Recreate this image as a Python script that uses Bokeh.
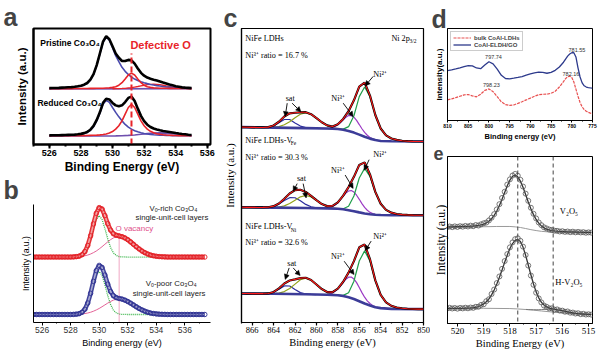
import numpy as np
from bokeh.plotting import figure
from bokeh.models import (Range1d, Label, Arrow, NormalHead, ColumnDataSource,
                          SingleIntervalTicker, FixedTicker, Legend, LegendItem, Span)
from bokeh.layouts import row, column
from bokeh.embed import file_html
from bokeh.resources import INLINE

SANS = "Liberation Sans"
SERIF = "Liberation Serif"

# ================= DATA =================
# ---- panel a : O 1s, Co3O4 ----
a_x = list(np.round(np.arange(526.0, 535.01, 0.2), 1))
a_pri_black = [63.2, 63.3, 63.4, 63.5, 63.7, 63.8, 64.1, 64.3, 64.7, 65.2, 65.8, 67.0, 68.9, 72.6, 78.9,
               89.0, 102.0, 115.2, 121.3, 118.0, 110.0, 101.9, 97.2, 93.6, 93.5, 94.8, 94.3, 90.6, 85.2,
               80.3, 77.1, 75.0, 73.7, 72.6, 71.7, 70.6, 69.4, 68.3, 67.2, 66.3, 65.3, 64.7, 64.0, 63.7,
               63.5, 63.2]
a_pri_blue = [63.1, 63.2, 63.3, 63.4, 63.6, 63.7, 64.0, 64.2, 64.5, 65.0, 65.6, 66.7, 68.6, 72.2, 78.5,
              88.5, 101.5, 114.6, 120.5, 117.0, 108.5, 99.5, 93.0, 86.5, 82.0, 78.5, 75.5, 73.3, 71.7,
              70.3, 69.2, 68.2, 67.3, 66.6, 66.0, 65.5, 65.0, 64.6, 64.3, 64.0, 63.7, 63.5, 63.3, 63.2,
              63.1, 63.0]
a_pri_red = [62.6, 62.6, 62.6, 62.6, 62.6, 62.6, 62.6, 62.6, 62.7, 62.7, 62.7, 62.8, 62.8, 62.9, 62.9,
             63.0, 63.0, 63.1, 63.3, 63.5, 64.0, 64.8, 66.5, 69.3, 73.5, 77.9, 80.0, 77.9, 73.5, 69.3,
             66.5, 64.8, 64.0, 63.5, 63.3, 63.1, 63.0, 63.0, 62.9, 62.9, 62.8, 62.8, 62.7, 62.7, 62.7,
             62.6]
a_x3 = list(np.round(np.arange(530.0, 535.01, 0.2), 1))
a_pri_c3 = [62.5, 62.6, 62.7, 62.8, 63.0, 63.4, 63.8, 64.4, 65.0, 65.7, 66.4, 67.0, 67.4, 67.5, 67.4,
            67.0, 66.4, 65.7, 65.0, 64.4, 63.8, 63.4, 63.0, 62.8, 62.7, 62.6]
a_base_x = [526.0, 535.0]
a_pri_base = [62.2, 62.6]
a_red_black = [10.2, 10.3, 10.3, 10.4, 10.5, 10.6, 10.8, 10.9, 11.1, 11.45, 11.9, 12.75, 14.1, 16.6, 20.8,
               27.5, 36.1, 46.7, 51.3, 50.5, 46.6, 43.85, 42.75, 43.9, 47.55, 52.2, 53.65, 48.7, 40.2,
               32.1, 26.2, 22.2, 19.6, 17.9, 16.75, 15.9, 15.15, 14.6, 14.0, 13.4, 12.8, 12.25, 11.75,
               11.4, 11.0, 10.7]
a_red_blue = [9.9, 10.0, 10.0, 10.1, 10.2, 10.3, 10.5, 10.6, 10.8, 11.1, 11.5, 12.3, 13.5, 15.9, 20.0,
              26.5, 35.0, 45.0, 49.5, 47.2, 41.5, 36.0, 31.0, 26.5, 22.5, 19.5, 17.2, 15.5, 14.2, 13.2,
              12.4, 11.8, 11.3, 10.9, 10.7, 10.5, 10.3, 10.2, 10.1, 10.0, 9.9, 9.85, 9.8, 9.8, 9.75, 9.7]
a_red_red = [9.8, 9.8, 9.8, 9.8, 9.8, 9.8, 9.8, 9.8, 9.8, 9.85, 9.9, 9.95, 10.1, 10.2, 10.3, 10.5, 10.8,
             11.2, 11.8, 12.8, 14.5, 17.2, 21.0, 26.5, 34.0, 41.5, 45.0, 41.5, 34.0, 26.5, 21.0, 17.2,
             14.8, 13.2, 12.1, 11.4, 10.9, 10.6, 10.4, 10.2, 10.1, 10.0, 9.95, 9.9, 9.85, 9.8]
a_red_base_x = [526.0, 529.0, 529.8, 530.2, 530.6, 531.0, 531.4, 531.8, 532.2, 532.6, 533.0, 533.4,
                533.8, 534.2, 534.6, 535.0]
a_red_base = [9.5, 9.5, 9.55, 9.65, 9.8, 10.2, 10.7, 11.4, 12.2, 12.8, 13.0, 12.8, 12.2, 11.4, 10.7, 10.2]
a_defect_x = 531.2
a_defect_top = 102

# ---- panel b : O 1s, single-unit-cell layers ----
b_x = list(np.round(np.arange(525.4, 537.41, 0.2), 1))
b_rich = ([76.0] * 14 +
          [76.2, 76.45, 77.05, 78.7, 82.3, 89.4, 100.6, 114.4, 126.8, 133.4, 131.8, 124.1, 114.7, 107.3,
           103.0, 101.3, 100.5, 99.65, 98.2, 96.2, 93.6, 90.8, 88.0, 85.4, 83.0, 81.1, 79.5, 78.3, 77.5,
           76.9, 76.55, 76.3, 76.2] + [76.0] * 14)
b_poor = ([9.3] * 14 +
          [9.43, 9.68, 10.25, 11.85, 15.4, 22.6, 33.9, 47.8, 60.2, 66.3, 63.9, 55.1, 44.5, 36.0, 31.0,
           28.85, 27.85, 27.15, 26.0, 24.4, 22.5, 20.4, 18.3, 16.3, 14.6, 13.1, 11.9, 11.0, 10.4, 10.0,
           9.7, 9.53, 9.43] + [9.3] * 14)
b_gx = [528.0, 528.4, 528.6, 528.8, 529.0, 529.2, 529.4, 529.6, 529.8, 530.0, 530.2, 530.4, 530.6, 530.8,
        531.0, 531.2, 531.4, 531.6, 532.0, 534.0]
b_rich_green = [76.0, 76.15, 76.5, 77.8, 80.8, 87.1, 97.1, 109.3, 119.8, 124.0, 119.8, 109.3, 97.1, 87.1,
                80.8, 77.8, 76.5, 76.15, 76.0, 76.0]
b_poor_green = [9.3, 9.45, 9.85, 11.15, 14.3, 20.9, 31.3, 44.0, 54.9, 59.3, 54.9, 44.0, 31.3, 20.9, 14.3,
                11.15, 9.85, 9.45, 9.3, 9.3]
b_px = list(np.round(np.arange(528.2, 534.61, 0.2), 1))
b_rich_pink = [76.2, 76.3, 76.55, 76.9, 77.5, 78.3, 79.5, 81.1, 83.0, 85.4, 88.0, 90.8, 93.6, 96.2, 98.2,
               99.5, 100.0, 99.5, 98.2, 96.2, 93.6, 90.8, 88.0, 85.4, 83.0, 81.1, 79.5, 78.3, 77.5, 76.9,
               76.55, 76.3, 76.2]
b_poor_pink = [9.43, 9.53, 9.7, 10.0, 10.4, 11.0, 11.9, 13.1, 14.6, 16.3, 18.3, 20.4, 22.5, 24.4, 26.0,
               27.0, 27.3, 27.0, 26.0, 24.4, 22.5, 20.4, 18.3, 16.3, 14.6, 13.1, 11.9, 11.0, 10.4, 10.0,
               9.7, 9.53, 9.43]
b_vac_x = 531.4
b_vac_top = 104

# ---- panel c : Ni 2p3/2 ----
c_x = list(np.round(np.arange(867.0, 849.99, -0.5), 1))
c_px = list(np.round(np.arange(859.0, 854.49, -0.25), 2))
c_px2 = list(np.round(np.arange(859.25, 854.24, -0.25), 2))
c_blx = [867, 864, 861, 859, 858, 857.5, 857, 856.5, 856, 855.5, 855, 854.5, 854, 853, 850]
# top : NiFe LDHs
c1_env = [204.0, 203.9, 203.8, 203.7, 203.7, 204.0, 205.7, 209.7, 215.1, 218.4, 219.0, 219.5, 219.6,
          217.5, 213.5, 209.1, 205.8, 204.6, 207.0, 212.5, 220.6, 232.0, 246.4, 250.5, 236.9, 216.7,
          202.6, 195.4, 192.2, 190.7, 189.8, 189.3, 189.1, 189.0, 189.0]
c1_base = [204.0, 203.5, 203.0, 202.5, 202.0, 201.2, 200.0, 198.3, 196.2, 194.0, 192.0, 190.5, 189.6,
           189.2, 189.0]
c1_gx = [859, 858, 857.5, 857, 856.5, 856, 855.5, 855, 854.5, 854, 853.5, 853, 852.5, 852, 851.5, 851]
c1_green = [202.5, 202.0, 201.9, 204.5, 215.9, 235.9, 246.0, 235.7, 216.5, 202.6, 195.4, 192.2, 190.7,
            189.8, 189.3, 189.1]
c1_purple = [202.7, 202.9, 203.4, 204.6, 206.5, 208.8, 211.7, 214.3, 216.1, 216.2, 214.4, 211.0, 206.7,
             202.3, 198.5, 195.5, 193.2, 191.8, 190.7]
c1_bx = [867, 866, 865, 864.5, 864, 863.5, 863, 862.5, 862, 861.5, 861, 860.5, 860, 859]
c1_blue = [204.0, 203.8, 203.7, 204.0, 205.3, 208.5, 212.0, 212.0, 208.4, 205.1, 203.6, 203.1, 202.8, 202.5]
c1_ox = [864.5, 864, 863.5, 863, 862.5, 862, 861.5, 861, 860.5, 860, 859.5, 859, 858.5, 858, 857.5]
c1_olive = [203.7, 203.9, 204.6, 206.5, 209.7, 213.8, 217.5, 219.0, 217.4, 213.5, 209.1, 205.6, 203.4,
            202.4, 201.3]
# middle : NiFe LDHs-V_Fe
c2_env = [120.3, 120.25, 120.2, 120.15, 120.2, 120.35, 121.5, 124.3, 129.2, 134.7, 138.25, 138.6, 136.3,
          132.3, 127.7, 123.7, 121.5, 121.75, 125.4, 132.45, 141.4, 152.1, 164.55, 167.2, 154.6, 136.4,
          124.0, 117.6, 114.7, 113.3, 112.65, 112.3, 112.1, 112.0, 112.0]
c2_base = [120.3, 120.0, 119.6, 119.2, 118.8, 118.2, 117.3, 116.2, 115.0, 113.9, 113.0, 112.5, 112.2,
           112.0, 112.0]
c2_green = [119.2, 118.8, 118.8, 121.4, 132.1, 150.9, 160.9, 152.6, 136.0, 124.0, 117.6, 114.7, 113.3,
            112.65, 112.3, 112.1]
c2_purple = [119.5, 119.6, 120.05, 121.0, 122.7, 125.1, 128.25, 131.85, 135.1, 137.3, 137.8, 136.2, 132.9,
             128.65, 124.15, 120.2, 117.2, 115.0, 113.65, 112.9, 112.5]
c2_bx = [867, 866, 865.5, 865, 864.5, 864, 863.5, 863, 862.5, 862, 861.5, 861, 860.5, 860, 859.5, 859]
c2_blue = [120.3, 120.2, 120.15, 120.2, 120.35, 121.3, 123.65, 127.3, 130.3, 130.25, 127.1, 123.3, 120.8,
           119.7, 119.3, 119.2]
c2_ox = [864, 863.5, 863, 862.5, 862, 861.5, 861, 860.5, 860, 859.5, 859, 858.5, 858]
c2_olive = [120.2, 120.6, 121.8, 124.2, 127.75, 131.2, 132.6, 131.0, 127.4, 123.7, 121.1, 119.65, 118.95]
# bottom : NiFe LDHs-V_Ni
c3_env = [30.3, 30.25, 30.2, 30.15, 30.1, 30.35, 31.9, 35.65, 40.7, 43.9, 45.0, 46.3, 46.7, 44.4, 39.7,
          34.9, 31.8, 31.7, 35.4, 42.6, 52.1, 64.1, 78.5, 81.4, 66.1, 44.0, 28.8, 21.0, 17.4, 15.7, 14.85,
          14.35, 14.1, 14.0, 14.0]
c3_base = [30.3, 30.0, 29.5, 29.0, 28.5, 27.6, 26.3, 24.5, 22.2, 19.8, 17.7, 16.0, 15.0, 14.2, 14.0]
c3_gx = [858, 857.5, 857, 856.5, 856, 855.5, 855, 854.5, 854, 853.5, 853, 852.5, 852, 851.5, 851]
c3_green = [28.6, 28.3, 31.1, 43.1, 64.2, 74.8, 64.0, 43.5, 28.8, 21.0, 17.4, 15.7, 14.85, 14.35, 14.1]
c3_purple = [29.25, 29.46, 29.9, 30.85, 32.55, 35.1, 38.3, 41.9, 45.2, 47.3, 47.45, 45.5, 41.6, 36.5,
             31.2, 26.4, 22.65, 19.8, 17.8, 16.46, 15.7]
c3_bx = [867, 866, 865, 864.5, 864, 863.5, 863, 862.5, 862, 861.5, 861, 860.5, 860]
c3_blue = [30.3, 30.2, 30.1, 30.35, 31.7, 34.8, 38.2, 38.1, 34.5, 31.2, 29.7, 29.3, 29.2]
c3_ox = [864, 863.5, 863, 862.5, 862, 861.5, 861, 860.5, 860, 859.5, 859, 858.5, 858, 857.5]
c3_olive = [30.2, 30.75, 32.3, 35.5, 40.1, 44.6, 46.4, 44.4, 39.7, 34.9, 31.5, 29.6, 28.7, 27.6]
# annotation arrows (start -> tip)
c_arrow_x0 = [854.70, 857.5, 862.73, 862.27, 855.08, 857.32, 861.8, 861.24, 854.89, 857.41, 862.55, 862.17]
c_arrow_y0 = [257, 229, 229, 229, 170, 154, 145, 145, 85, 64, 57, 57]
c_arrow_x1 = [855.45, 856.57, 862.92, 861.45, 855.54, 856.57, 862.17, 860.96, 855.45, 856.48, 862.92, 861.52]
c_arrow_y1 = [247, 215, 215, 220, 159, 140, 137, 130, 75, 50, 45, 49]

# ---- panel d : Co 2p ----
d_x = [810, 809, 808, 807, 806, 805, 804, 803, 802, 801, 800, 799, 798, 797, 796, 795, 794, 793, 792, 791,
       790, 789, 788, 787, 786, 785, 784, 783, 782, 781.5, 781, 780.5, 780, 779.5, 779, 778.5, 778, 777.5,
       777, 776.5, 776, 775.5, 775]
d_eldh = [59.7, 60.5, 61.6, 63.0, 64.5, 65.5, 65.3, 62.8, 62.0, 66.3, 70.2, 67.8, 61.5, 54.0, 50.2, 49.8,
          50.6, 51.5, 52.5, 54.2, 55.8, 57.0, 57.8, 57.5, 56.5, 57.5, 60.0, 64.0, 69.7, 73.5, 77.0, 79.5,
          81.0, 81.0, 76.0, 63.0, 52.0, 45.0, 41.5, 40.0, 39.3, 38.9, 38.7]
d_bulk = [24.7, 25.8, 27.4, 29.0, 30.6, 31.0, 29.5, 28.3, 31.5, 36.0, 37.8, 34.5, 28.5, 22.3, 19.0, 18.0,
          18.6, 20.5, 22.5, 24.6, 26.8, 29.0, 30.8, 31.4, 31.5, 32.5, 35.0, 40.0, 46.5, 50.0, 52.3, 53.0,
          51.5, 46.0, 37.5, 29.0, 21.5, 16.3, 13.0, 11.0, 9.8, 8.8, 8.0]
d_peak_text = ["797.74", "798.23", "781.55", "782.16"]
d_peak_x = [798.9, 799.4, 778.75, 780.2]
d_peak_y = [76, 43, 84, 56]

# ---- panel e : V 2p3/2 ----
e_x = list(np.round(np.arange(520.4, 514.89, -0.1), 1))
e_up_fit = [103.5, 103.55, 103.6, 103.7, 103.8, 103.9, 104.0, 104.1, 104.2, 104.35, 104.5, 104.8, 105.15,
            105.7, 106.6, 107.75, 109.6, 112.3, 115.85, 120.6, 126.4, 133.1, 140.5, 147.6, 153.7, 157.8,
            159.1, 157.25, 152.6, 145.95, 138.3, 130.3, 123.0, 116.7, 111.5, 107.6, 104.6, 102.55, 101.2,
            100.25, 99.6, 99.25, 98.95, 98.75, 98.55, 98.45, 98.3, 98.25, 98.15, 98.05, 97.95, 97.9, 97.8,
            97.75, 97.6, 97.6]
e_up_pts = [103.2, 104.0, 103.3, 104.1, 103.5, 104.3, 103.8, 104.6, 104.0, 104.9, 104.3, 105.5, 105.0,
            106.3, 107.4, 108.2, 110.5, 113.4, 117.2, 122.3, 127.9, 134.6, 141.2, 148.9, 154.5, 158.6,
            160.3, 158.4, 154.0, 146.8, 139.2, 131.5, 124.1, 117.6, 112.6, 108.3, 105.4, 103.1, 101.9,
            100.7, 100.2, 99.5, 99.3, 98.6, 98.9, 98.2, 98.6, 97.9, 98.4, 97.7, 98.2, 97.6, 97.9, 97.3,
            97.7, 97.4]
e_up_bgx = [520.4, 520.0, 519.5, 519.0, 518.5, 518.0, 517.8, 517.6, 517.4, 517.2, 517.0, 516.8, 516.6,
            516.4, 516.0, 515.5, 515.0, 514.9]
e_up_bg = [103.0, 103.2, 103.4, 103.7, 104.0, 104.0, 103.6, 102.9, 101.8, 100.6, 99.6, 98.8, 98.3, 98.0,
           97.7, 97.5, 97.2, 97.2]
e_low_fit = [16.3, 16.3, 16.3, 16.3, 16.3, 16.3, 16.3, 16.4, 16.5, 16.7, 17.0, 17.4, 18.2, 19.4, 21.0,
             23.3, 26.45, 30.7, 35.9, 42.25, 49.5, 57.4, 65.55, 73.3, 80.3, 85.7, 89.05, 90.1, 87.9, 81.9,
             73.1, 62.7, 52.2, 42.3, 33.9, 27.5, 22.8, 19.75, 17.8, 16.6, 15.95, 15.4, 14.7, 14.3, 13.7,
             13.1, 12.5, 11.9, 11.4, 10.95, 10.6, 10.4, 10.15, 9.95, 9.8, 9.7]
e_low_pts = [16.0, 16.8, 16.1, 16.6, 15.9, 16.7, 16.2, 16.9, 16.3, 17.1, 16.8, 17.9, 18.0, 19.9, 20.6,
             23.9, 26.0, 31.6, 36.4, 43.3, 50.4, 58.6, 66.9, 74.4, 81.6, 86.9, 90.4, 91.3, 88.6, 82.4,
             73.4, 62.1, 51.4, 41.5, 33.0, 26.9, 22.6, 19.2, 17.9, 16.2, 16.3, 14.9, 15.1, 13.9, 13.8,
             12.6, 12.9, 11.6, 11.7, 10.7, 11.0, 10.0, 10.4, 9.6, 9.9, 9.5]
e_low_bgx = [520.4, 519.0, 518.0, 517.7, 517.4, 517.1, 516.8, 516.5, 516.2, 515.8, 515.4, 515.0, 514.9]
e_low_bg = [16.3, 16.3, 16.0, 15.6, 15.0, 14.3, 13.4, 12.6, 11.8, 11.0, 10.3, 9.8, 9.7]
e_bump_x = list(np.round(np.arange(517.4, 514.99, -0.1), 1))
e_low_bump = [15.1, 14.94, 14.87, 14.8, 14.77, 14.8, 14.9, 15.05, 15.2, 15.3, 15.25, 15.1, 14.7, 14.3,
              13.7, 13.1, 12.5, 11.9, 11.4, 10.95, 10.6, 10.4, 10.15, 9.95, 9.8]
e_dash_x = [517.7, 516.35]

letters = ["a", "b", "c", "d", "e"]


# ================= HELPERS =================
def make(w, h, xr, yr, bl, br, bt, bb):
    p = figure(width=w, height=h, x_range=Range1d(*xr), y_range=Range1d(*yr),
               output_backend="svg", toolbar_location=None,
               min_border_left=bl, min_border_right=br, min_border_top=bt, min_border_bottom=bb)
    p.xgrid.visible = False
    p.ygrid.visible = False
    p.background_fill_color = "white"
    p.border_fill_color = "white"
    return p


def style_axes(p, font, tick_size, title_size, weight, xlabel, ylabel, interval, minor,
               tick_out, tick_std, title_std, ystd, ysize, tcolor="black", lw=1):
    xa = p.xaxis[0]
    xa.ticker = SingleIntervalTicker(interval=interval, num_minor_ticks=minor)
    xa.major_label_text_font = font
    xa.major_label_text_font_size = f"{tick_size}px"
    xa.major_label_text_font_style = weight
    xa.major_label_text_color = tcolor
    xa.major_label_standoff = tick_std
    xa.axis_label = xlabel
    xa.axis_label_text_font = font
    xa.axis_label_text_font_size = f"{title_size}px"
    xa.axis_label_text_font_style = weight
    xa.axis_label_text_color = "black"
    xa.axis_label_standoff = title_std
    xa.major_tick_out = tick_out
    xa.major_tick_in = 0
    xa.minor_tick_out = max(1, tick_out - 2)
    xa.minor_tick_in = 0
    xa.axis_line_width = lw
    xa.major_tick_line_width = lw
    xa.minor_tick_line_width = lw
    ya = p.yaxis[0]
    ya.ticker = FixedTicker(ticks=[])
    ya.major_tick_out = 0
    ya.minor_tick_out = 0
    ya.axis_label = ylabel
    ya.axis_label_text_font = font
    ya.axis_label_text_font_size = f"{ysize}px"
    ya.axis_label_text_font_style = weight
    ya.axis_label_text_color = "black"
    ya.axis_label_standoff = ystd
    ya.axis_line_width = lw


def lab(p, x, y, s, size, font, align="left", color="black", style="normal",
        units="data", baseline="middle"):
    p.add_layout(Label(x=x, y=y, text=s, x_units=units, y_units=units, text_font=font,
                       text_font_size=f"{size}px", text_align=align, text_color=color,
                       text_font_style=style, text_baseline=baseline))


def letter(p, s, x, y, size=25):
    # placed in the (unclipped) "above" side panel, offsets in screen pixels
    p.add_layout(Label(x=x, y=y, text=s, x_units="screen", y_units="screen", text_font=SANS,
                       text_font_size=f"{size}px", text_font_style="bold", text_baseline="alphabetic"),
                 "above")


# ================= PANEL a =================
RED_A = "#e8242a"
BLUE_A = "#4a4aae"
PURP_A = "#6f4fae"
pa = make(218, 176, (525.0, 536.2), (0, 130), 33, 2, 17, 29)
pa.outline_line_color = "black"
pa.outline_line_width = 2
style_axes(pa, SANS, 9, 12, "bold", "Binding Energy (eV)", "Intensity (a.u.)", 2, 2,
           4, 1, 1, 6, 11.5, lw=2)
pa.line(a_base_x, a_pri_base, line_color=PURP_A, line_width=1.6)
pa.line(a_x3, a_pri_c3, line_color=RED_A, line_width=1.3)
pa.line(a_x, a_pri_blue, line_color=BLUE_A, line_width=1.6)
pa.line(a_x, a_pri_red, line_color=RED_A, line_width=1.6)
pa.line(a_x, a_pri_black, line_color="black", line_width=2.6)
pa.line(a_red_base_x, a_red_base, line_color=PURP_A, line_width=1.6)
pa.line(a_x, a_red_blue, line_color=BLUE_A, line_width=1.6)
pa.line(a_x, a_red_red, line_color=RED_A, line_width=1.6)
pa.line(a_x, a_red_black, line_color="black", line_width=2.6)
pa.segment(x0=[a_defect_x], y0=[0], x1=[a_defect_x], y1=[a_defect_top], line_color=RED_A,
           line_width=2, line_dash="6 3")
lab(pa, 525.43, 114, "Pristine Co₃O₄", 8.5, SANS, style="bold")
lab(pa, 525.25, 47, "Reduced Co₃O₄", 8.5, SANS, style="bold")
lab(pa, 531.13, 112, "Defective O", 11, SANS, color=RED_A, style="bold")
letter(pa, letters[0], -30, 12)

# ================= PANEL b =================
RED_B = "#e31e24"
BLUE_B = "#2e3192"
GREEN_B = "#39b54a"
PINK_B = "#e0508a"
pb = make(218, 178, (525.4, 537.8), (0, 137), 33, 8, 9, 32)
pb.outline_line_color = None
style_axes(pb, SANS, 8.5, 9, "normal", "Binding energy (eV)", "Intensity (a.u.)", 2, 2,
           3, 1, 2, 3, 8.7, tcolor="#333333")
pb.line(b_gx, b_rich_green, line_color=GREEN_B, line_width=1.3, line_dash="1 1")
pb.line(b_gx, b_poor_green, line_color=GREEN_B, line_width=1.3, line_dash="1 1")
pb.line(b_px, b_rich_pink, line_color=PINK_B, line_width=0.9)
pb.line(b_px, b_poor_pink, line_color=PINK_B, line_width=0.9)
pb.segment(x0=[b_vac_x], y0=[0], x1=[b_vac_x], y1=[b_vac_top], line_color=PINK_B,
           line_width=1, line_dash="1 1")
for yy, cc in [(b_rich, RED_B), (b_poor, BLUE_B)]:
    pb.line(b_x, yy, line_color=cc, line_width=4.6, line_alpha=0.9)
    pb.line(b_x, yy, line_color="#ffffff", line_width=1.6, line_alpha=0.55)
    pb.scatter(b_x, yy, marker="circle", size=4.5, fill_color=None, line_color=cc, line_width=0.9)
lab(pb, 535.2, 132, "Vₒ-rich Co₃O₄", 7.8, SANS, align="center", color="#222222")
lab(pb, 535.1, 122, "single-unit-cell layers", 7.8, SANS, align="center", color="#222222")
lab(pb, 535.05, 45, "Vₒ-poor Co₃O₄", 7.8, SANS, align="center", color="#222222")
lab(pb, 534.9, 34, "single-unit-cell layers", 7.8, SANS, align="center", color="#222222")
lab(pb, 531.14, 109, "O vacancy", 8, SANS, color=PINK_B)
letter(pb, letters[1], -30, 15)

# ================= PANEL c =================
GREEN_C = "#1f9e4a"
PURP_C = "#9b39c4"
BLUE_C = "#2b2b9e"
OLIVE_C = "#93a21c"
BASE_C = "#3c3c98"
pc = make(212, 354, (867.0, 850.0), (0, 307), 23, 7, 15, 32)
pc.outline_line_color = "black"
pc.outline_line_width = 1.2
style_axes(pc, SERIF, 8.5, 10.5, "normal", "Binding energy (eV)", "Intensity (a.u.)", 2, 2,
           3, 1, 1, 6, 11, lw=1.2)
for base, blx, blue, bx, olive, ox, purple, pxs, green, gx, env in [
        (c1_base, c_blx, c1_blue, c1_bx, c1_olive, c1_ox, c1_purple, c_px, c1_green, c1_gx, c1_env),
        (c2_base, c_blx, c2_blue, c2_bx, c2_olive, c2_ox, c2_purple, c_px2, c2_green, c1_gx, c2_env),
        (c3_base, c_blx, c3_blue, c3_bx, c3_olive, c3_ox, c3_purple, c_px2, c3_green, c3_gx, c3_env)]:
    pc.line(bx, blue, line_color=BLUE_C, line_width=1.2)
    pc.line(ox, olive, line_color=OLIVE_C, line_width=1.2)
    pc.line(pxs, purple, line_color=PURP_C, line_width=1.2)
    pc.line(gx, green, line_color=GREEN_C, line_width=1.2)
    pc.line(blx, base, line_color=BASE_C, line_width=2.6)
    pc.line(c_x, env, line_color="black", line_width=2.2)
    pc.line(c_x, env, line_color="#ff1a1a", line_width=1.1)
arr_src = ColumnDataSource(dict(x0=c_arrow_x0, y0=c_arrow_y0, x1=c_arrow_x1, y1=c_arrow_y1))
pc.add_layout(Arrow(x_start="x0", y_start="y0", x_end="x1", y_end="y1", source=arr_src,
                    line_width=0.9, line_color="black",
                    end=NormalHead(size=5, fill_color="black", line_color="black", line_width=0.5)))
FS = 8.2
lab(pc, 866.65, 297, "NiFe LDHs", FS, SERIF)
lab(pc, 866.65, 279, "Ni³⁺ ratio = 16.7 %", FS, SERIF)
lab(pc, 853.0, 297, "Ni 2p", FS, SERIF)
lab(pc, 851.3, 294, "3/2", 5.5, SERIF)
lab(pc, 866.65, 190, "NiFe LDHs-V", FS, SERIF)
lab(pc, 862.4, 187, "Fe", 5.5, SERIF)
lab(pc, 866.65, 172, "Ni³⁺ ratio = 30.3 %", FS, SERIF)
lab(pc, 866.65, 100, "NiFe LDHs-V", FS, SERIF)
lab(pc, 862.4, 97, "Ni", 5.5, SERIF)
lab(pc, 866.65, 84, "Ni³⁺ ratio = 32.6 %", FS, SERIF)
for (xx, yy, tt) in [(854.05, 259, "Ni²⁺"), (857.97, 234, "Ni³⁺"), (862.45, 234, "sat"),
                     (854.05, 175, "Ni²⁺"), (858.0, 159, "Ni³⁺"), (861.4, 150, "sat"),
                     (854.05, 90, "Ni²⁺"), (858.0, 69, "Ni³⁺"), (862.3, 62, "sat")]:
    lab(pc, xx, yy, tt, FS, SERIF, align="center")
letter(pc, letters[2], -18, 11)

# ================= PANEL d =================
RED_D = "#e85050"
BLUE_D = "#2d3a8c"
pdd = make(170, 143, (810.0, 775.0), (0, 110), 17, 7, 13, 20)
pdd.outline_line_color = "black"
pdd.outline_line_width = 1
style_axes(pdd, SANS, 5, 7.5, "bold", "Binding energy (eV)", "Intensity(a.u.)", 5, 2,
           2, 1, 1, 4, 8)
r_bulk = pdd.line(d_x, d_bulk, line_color=RED_D, line_width=1.2, line_dash="3 1")
r_eldh = pdd.line(d_x, d_eldh, line_color=BLUE_D, line_width=1.3)
leg = Legend(items=[LegendItem(label="bulk CoAl-LDHs", renderers=[r_bulk]),
                    LegendItem(label="CoAl-ELDH/GO", renderers=[r_eldh])],
             location="top_left", label_text_font=SANS, label_text_font_size="6px",
             label_text_font_style="bold", glyph_height=7, glyph_width=18, label_height=7,
             spacing=0, padding=2, margin=3, label_standoff=3, border_line_color="#999999",
             border_line_width=0.8, background_fill_alpha=1)
pdd.add_layout(leg)
for t, xx, yy in zip(d_peak_text, d_peak_x, d_peak_y):
    lab(pdd, xx, yy, t, 5.5, SANS, align="center", color="#333333")
letter(pdd, letters[3], -16, 10)

# ================= PANEL e =================
pe = make(170, 211, (520.38, 514.85), (0, 179), 15, 8, 1, 31)
pe.outline_line_color = "black"
pe.outline_line_width = 1
style_axes(pe, SERIF, 9, 10.5, "normal", "Binding Energy (eV)", "Intensity (a.u.)", 1, 2,
           3, 1, 1, 0, 12)
for xv in e_dash_x:
    pe.add_layout(Span(location=xv, dimension="height", line_color="#444444", line_width=1,
                       line_dash="4 3"))
pe.line(e_up_bgx, e_up_bg, line_color="#9a9a9a", line_width=1)
pe.line(e_low_bgx, e_low_bg, line_color="#9a9a9a", line_width=1)
pe.line(e_bump_x, e_low_bump, line_color="#7a7a7a", line_width=1)
pe.line(e_x, e_up_fit, line_color="#333333", line_width=1.3)
pe.line(e_x, e_low_fit, line_color="#333333", line_width=1.3)
pe.scatter(e_x, e_up_pts, marker="circle", size=5, fill_color=None, line_color="#555555",
           line_width=0.8)
pe.scatter(e_x, e_low_pts, marker="circle", size=5, fill_color=None, line_color="#555555",
           line_width=0.8)
lab(pe, 515.75, 121, "V₂O₅", 8.5, SERIF, align="center")
lab(pe, 515.75, 45, "H-V₂O₅", 8.5, SERIF, align="center")
letter(pe, letters[4], -14, 3, size=18)

layout = row(column(pa, pb), pc, column(pdd, pe))
open("out.html", "w").write(file_html(layout, INLINE, title="XPS"))
